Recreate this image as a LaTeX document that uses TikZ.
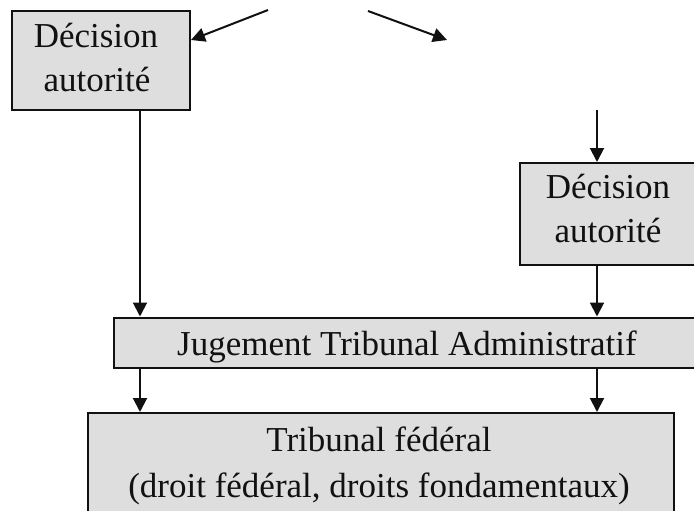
\documentclass[tikz,border=0pt]{standalone}
\usepackage{fontspec}
\setmainfont{Liberation Serif}
\usetikzlibrary{arrows.meta}
\definecolor{boxfill}{HTML}{DEDEDE}
\definecolor{ink}{HTML}{111111}
\tikzset{
  box/.style={draw=ink, line width=2pt, fill=boxfill, rectangle, inner sep=0pt},
  lbl/.style={anchor=base, inner sep=0pt, font=\fontsize{35}{44}\selectfont, text=ink},
  arr/.style={draw=ink, line width=2pt, -{Triangle[length=14pt,width=14pt]}},
}
\begin{document}
\begin{tikzpicture}[x=1pt,y=-1pt]
\useasboundingbox (0,0) rectangle (694,511);
\clip (0,0) rectangle (694,511);
% boxes
\node[box, minimum width=178pt, minimum height=99pt] (d1) at (101,60.5) {};
\node[box, minimum width=176pt, minimum height=102pt] (d2) at (608,214) {};
\node[box, minimum width=590pt, minimum height=50pt] (jug) at (409,342.5) {};
\node[box, minimum width=586pt, minimum height=130pt] (tf) at (381,478) {};
% texts
\node[lbl] (d1a) at (96,48) {Décision};
\node[lbl] (d1b) at (97,92) {autorité};
\node[lbl] (d2a) at (608,198) {Décision};
\node[lbl] (d2b) at (608,242) {autorité};
\node[lbl] (juga) at (407,355) {Jugement Tribunal Administratif};
\node[lbl] (tfa) at (379,451) {Tribunal fédéral};
\node[lbl] (tfb) at (379,497) {(droit fédéral, droits fondamentaux)};
% free ends
\coordinate (s1) at (268,10);
\coordinate (s2) at (368,11);
\coordinate (e2) at (447,40);
\coordinate (s3) at (597,110);
\coordinate (xl) at (140,0);
\coordinate (xr) at (597,0);
% connectors
\draw[arr] (s1) -- (d1.east |- 0,40);
\draw[arr] (s2) -- (e2);
\draw[arr] (d1.south -| xl) -- (jug.north -| xl);
\draw[arr] (s3) -- (d2.north -| xr);
\draw[arr] (d2.south -| xr) -- (jug.north -| xr);
\draw[arr] (jug.south -| xl) -- (tf.north -| xl);
\draw[arr] (jug.south -| xr) -- (tf.north -| xr);
\end{tikzpicture}
\end{document}
